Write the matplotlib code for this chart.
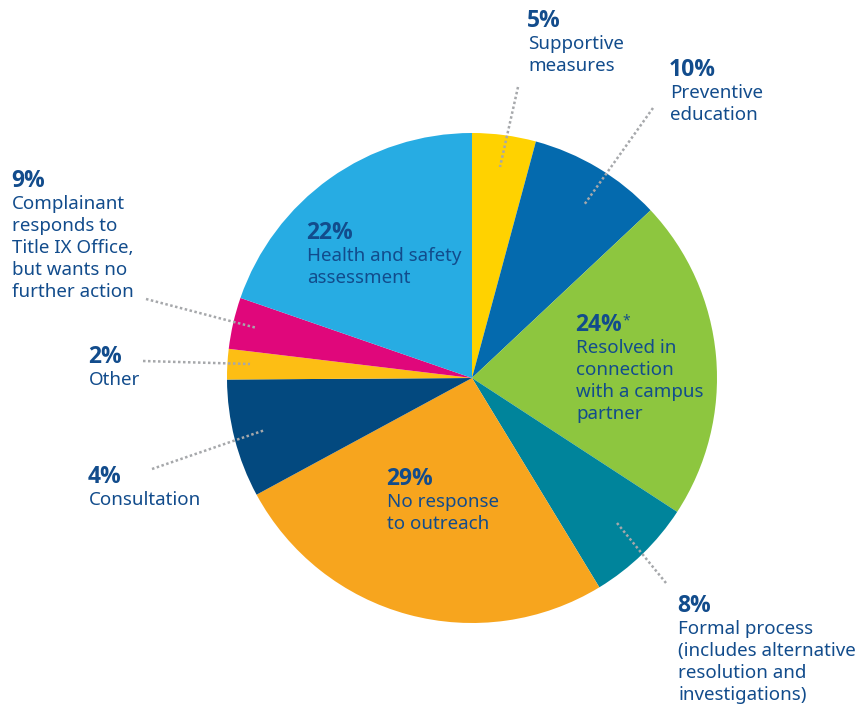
import matplotlib.pyplot as plt

W, H = 855, 707

# slices clockwise from 12 o'clock
categories = ["Supportive\nmeasures",
              "Preventive\neducation",
              "Resolved in\nconnection\nwith a campus\npartner",
              "Formal process\n(includes alternative\nresolution and\ninvestigations)",
              "No response\nto outreach",
              "Consultation",
              "Other",
              "Complainant\nresponds to\nTitle IX Office,\nbut wants no\nfurther action",
              "Health and safety\nassessment"]
pct_text = ["5%", "10%", "24%", "8%", "29%", "4%", "2%", "9%", "22%"]
shares = [4.2, 8.8, 21.2, 7.1, 25.8, 7.8, 2.0, 3.4, 19.7]
colors = ["#FFD200", "#046AAE", "#8DC63F", "#00849B", "#F7A51E",
          "#03497F", "#FDBE14", "#E0077B", "#27ACE3"]

# label layout in pixels from top-left: (x, baseline of percent)
label_pos = [(528, 27), (670, 76), (576, 331), (678, 612), (387, 485),
             (89, 483), (89, 363), (12, 187), (307, 239)]
# leader lines (x0, y0, x1, y1) in pixels, None = label inside slice
leaders = [(518, 87, 500, 167), (653, 108, 584, 205), None,
           (617, 523, 666, 583), None, (152, 469, 265, 430),
           (143, 361, 250, 364), (146, 299, 257, 328), None]

TXT = "#124C8C"
STEP = 22


def Y(y):
    return H - y


fig = plt.figure(figsize=(W / 100, H / 100), dpi=100)
ax = fig.add_axes([0, 0, 1, 1])
ax.pie(shares, colors=colors, startangle=90, counterclock=False,
       center=(472, Y(378)), radius=245, wedgeprops=dict(linewidth=0))
ax.set_xlim(0, W)
ax.set_ylim(0, H)
ax.set_aspect('equal')
ax.axis('off')

pct_artists = []
for cat, pct, (x, yb), ld in zip(categories, pct_text, label_pos, leaders):
    t = ax.text(x - 1, Y(yb), pct, fontsize=16.5, fontweight='bold', color=TXT,
                family=['Open Sans', 'Roboto'], va='baseline', ha='left')
    pct_artists.append(t)
    for i, line in enumerate(cat.split("\n")):
        ax.text(x, Y(yb + STEP * (i + 1)), line, fontsize=13.5, color=TXT,
                family='Noto Sans', va='baseline', ha='left')
    if ld is not None:
        ax.plot([ld[0], ld[2]], [Y(ld[1]), Y(ld[3])], color="#A6A8AB",
                lw=1.8, linestyle=(0, (1, 1)), zorder=5)

# asterisk after "24%"
ax.annotate("*", xy=(1, 1), xycoords=pct_artists[2], xytext=(0.5, -8),
            textcoords='offset points', fontsize=10, color=TXT,
            family='Noto Sans', va='baseline', ha='left')

fig.savefig("out.png", dpi=100)
